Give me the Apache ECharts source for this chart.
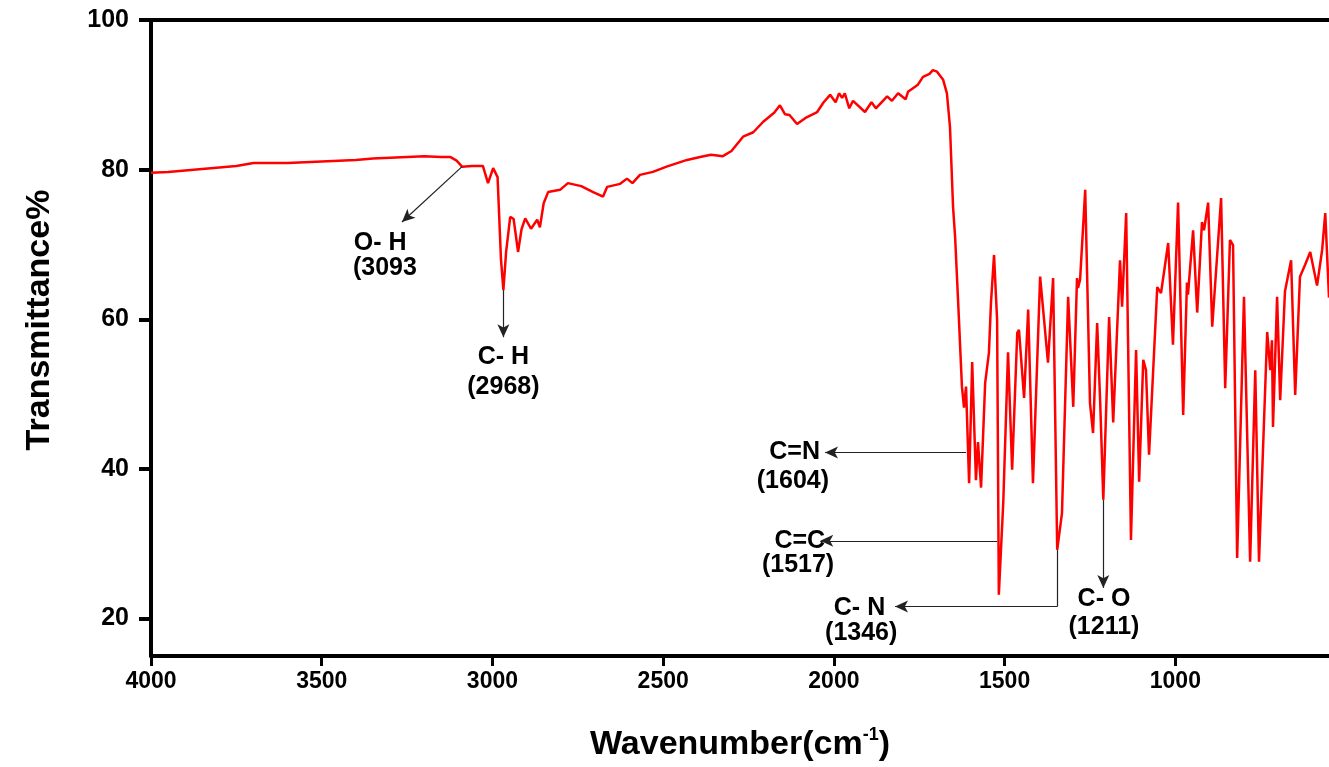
<!DOCTYPE html>
<html>
<head>
<meta charset="utf-8">
<script src="https://cdn.jsdelivr.net/npm/echarts@6/dist/echarts.min.js"></script>
<style>
  html, body { margin: 0; padding: 0; background: #fff; }
  #chart { width: 1329px; height: 767px; }
</style>
</head>
<body>
<div id="chart"></div>
<script>
// FTIR spectrum, values
var wavenumber = [
  4000, 3950, 3900, 3850, 3800, 3750, 3700, 3650, 3600, 3550, 3500, 3450, 3400, 3350, 3300, 3250, 3200, 3150,
  3124, 3105, 3089, 3060, 3028, 3013, 2998, 2985, 2975, 2968, 2960, 2948, 2938, 2925, 2915, 2904, 2887, 2869,
  2861, 2850, 2837, 2802, 2779, 2740, 2705, 2676, 2664, 2626, 2606, 2590, 2568, 2530, 2490, 2430, 2392, 2360,
  2325, 2300, 2266, 2236, 2207, 2175, 2158, 2143, 2130, 2108, 2080, 2049, 2030, 2011, 1995, 1985, 1976, 1968,
  1955, 1944, 1909, 1890, 1877, 1844, 1830, 1812, 1790, 1783, 1755, 1739, 1720, 1710, 1698, 1680, 1669, 1660,
  1651, 1645, 1636, 1625, 1619, 1613, 1604, 1595, 1584, 1578, 1569, 1557, 1546, 1540, 1531, 1522, 1517, 1504,
  1490, 1478, 1463, 1458, 1443, 1431, 1417, 1396, 1373, 1358, 1346, 1332, 1314, 1299, 1288, 1285, 1279, 1264,
  1250, 1241, 1229, 1220, 1215, 1211, 1194, 1182, 1162, 1156, 1144, 1130, 1115, 1106, 1094, 1086, 1077, 1053,
  1042, 1021, 1007, 992, 977, 966, 963, 948, 936, 922, 916, 904, 892, 866, 854, 840, 831, 819,
  799, 781, 766, 755, 731, 722, 717, 714, 702, 693, 679, 661, 649, 635, 620, 605, 585, 570,
  561, 550
];
var transmittance = [
  79.6, 79.7, 79.9, 80.1, 80.3, 80.5, 80.9, 80.9, 80.9, 81.0, 81.1, 81.2, 81.3, 81.5, 81.6, 81.7, 81.8, 81.7,
  81.7, 81.2, 80.4, 80.5, 80.5, 78.2, 80.2, 79.0, 68.0, 63.9, 69.0, 73.7, 73.4, 69.0, 72.0, 73.5, 72.1, 73.3,
  72.3, 75.5, 77.0, 77.3, 78.2, 77.8, 77.0, 76.4, 77.7, 78.1, 78.8, 78.2, 79.3, 79.7, 80.4, 81.3, 81.7, 82.0,
  81.8, 82.5, 84.4, 85.0, 86.4, 87.6, 88.6, 87.4, 87.3, 86.1, 87.0, 87.7, 89.0, 90.0, 89.0, 90.2, 89.6, 90.2,
  88.2, 89.2, 87.7, 89.0, 88.2, 89.8, 89.2, 90.2, 89.4, 90.4, 91.3, 92.4, 92.8, 93.3, 93.1, 92.0, 90.2, 85.7,
  75.0, 71.0, 62.2, 51.0, 48.2, 51.0, 38.1, 54.3, 38.5, 43.6, 37.5, 51.5, 55.5, 62.2, 68.6, 59.9, 23.2, 35.5,
  55.6, 39.9, 58.2, 58.6, 49.5, 61.3, 38.1, 65.7, 54.2, 65.5, 29.2, 34.1, 63.0, 48.3, 65.5, 64.2, 65.3, 77.3,
  48.8, 44.8, 59.5, 48.8, 48.6, 35.9, 60.3, 46.2, 67.9, 61.7, 74.2, 30.5, 55.9, 38.3, 54.6, 53.2, 41.9, 64.3,
  63.5, 70.2, 56.6, 75.6, 47.2, 64.9, 63.3, 71.9, 60.9, 73.0, 71.9, 75.6, 59.0, 76.2, 50.8, 70.6, 69.9, 28.1,
  63.0, 27.6, 53.2, 27.6, 58.3, 53.2, 57.2, 45.6, 63.0, 49.2, 63.7, 67.9, 49.9, 65.7, 67.3, 69.0, 64.5, 69.3,
  74.2, 62.9
];
var xTicks = [4000, 3500, 3000, 2500, 2000, 1500, 1000];
var yTicks = [20, 40, 60, 80, 100];

// peak assignments
var peakNames = ['O- H', 'C- H', 'C=N', 'C=C', 'C- N', 'C- O'];
var peakValues = ['(3093', '(2968)', '(1604)', '(1517)', '(1346)', '(1211)'];

// arrows drawn in data coordinates: [from, to, withArrowHead]
var arrows = [
  [[3089, 80.4], [3265, 73.0], true],
  [[2968, 63.9], [2968, 57.6], true],
  [[1613, 42.2], [2026, 42.2], true],
  [[1522, 30.4], [2040, 30.4], true],
  [[1346, 29.2], [1346, 21.6], false],
  [[1346, 21.6], [1821, 21.6], true],
  [[1211, 35.9], [1211, 24.1], true]
];
// label anchors (name line, value line)
var labelPos = [
  [[3329, 70.2], [3315, 66.8]],
  [[2968, 55.0], [2968, 51.0]],
  [[2115, 42.2], [2120, 38.4]],
  [[2100, 30.4], [2105, 27.1]],
  [[1925, 21.4], [1920, 18.0]],
  [[1209, 22.6], [1209, 18.8]]
];

var spectrum = wavenumber.map(function (w, i) { return [w, transmittance[i]]; });

var arrowData = arrows.map(function (a) {
  return [
    { coord: a[0], symbol: 'none' },
    { coord: a[1], symbol: a[2] ? 'arrow' : 'none' }
  ];
});

var labelData = [];
peakNames.forEach(function (n, i) {
  labelData.push({ value: labelPos[i][0], name: n });
  labelData.push({ value: labelPos[i][1], name: peakValues[i] });
});

var font = 'Liberation Sans, Arial, sans-serif';
var chart = echarts.init(document.getElementById('chart'));
chart.setOption({
  animation: false,
  backgroundColor: '#fff',
  grid: { left: 151, right: 0, top: 20, bottom: 110 },
  xAxis: [
    {
      type: 'value',
      inverse: true,
      min: 550,
      max: 4000,
      name: '{t|Wavenumber(cm}{s|-1}{t|)}',
      nameLocation: 'middle',
      nameGap: 70,
      nameTextStyle: {
        rich: {
          t: { fontSize: 34, fontWeight: 'bold', fontFamily: font, color: '#000' },
          s: { fontSize: 18, fontWeight: 'bold', fontFamily: font, color: '#000', verticalAlign: 'top', padding: [0, 0, 20, 0] }
        }
      },
      splitLine: { show: false },
      axisLine: { onZero: false, lineStyle: { color: '#000', width: 4 } },
      axisTick: { customValues: xTicks, length: 10, lineStyle: { color: '#000', width: 3 } },
      axisLabel: {
        customValues: xTicks, margin: 14, fontSize: 23, fontWeight: 'bold', fontFamily: font, color: '#000',
        formatter: function (v) { return String(v); }
      }
    },
    {
      type: 'value',
      position: 'top',
      inverse: true,
      min: 550,
      max: 4000,
      splitLine: { show: false },
      axisLine: { onZero: false, lineStyle: { color: '#000', width: 4 } },
      axisTick: { show: false },
      axisLabel: { show: false }
    }
  ],
  yAxis: {
    type: 'value',
    min: 15,
    max: 100,
    name: 'Transmittance%',
    nameLocation: 'middle',
    nameGap: 94,
    nameTextStyle: { fontSize: 34, fontWeight: 'bold', fontFamily: font, color: '#000', padding: [0, 0, 0, 36] },
    splitLine: { show: false },
    axisLine: { onZero: false, lineStyle: { color: '#000', width: 4 } },
    axisTick: { customValues: yTicks, length: 12, lineStyle: { color: '#000', width: 4 } },
    axisLabel: { customValues: yTicks, margin: 22, fontSize: 25, fontWeight: 'bold', fontFamily: font, color: '#000' }
  },
  series: [
    {
      type: 'line',
      data: spectrum,
      showSymbol: false,
      symbol: 'none',
      lineStyle: { color: '#f00', width: 2.5 },
      markLine: {
        silent: true,
        symbolSize: [9, 13],
        lineStyle: { color: '#222', width: 1.2, type: 'solid' },
        itemStyle: { color: '#000' },
        label: { show: false },
        data: arrowData
      }
    },
    {
      type: 'scatter',
      symbolSize: 0,
      silent: true,
      itemStyle: { opacity: 1 },
      data: labelData,
      label: {
        show: true,
        position: 'inside',
        formatter: '{b}',
        fontSize: 25,
        fontWeight: 'bold',
        fontFamily: font,
        color: '#000',
        textBorderWidth: 0
      }
    }
  ]
});
</script>
</body>
</html>
